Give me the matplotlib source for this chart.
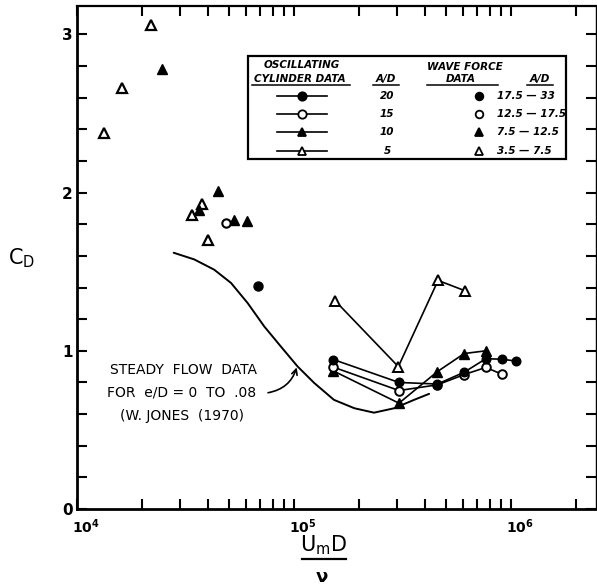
import matplotlib
matplotlib.use("Agg")
import matplotlib.pyplot as plt
from matplotlib.lines import Line2D
from matplotlib.patches import Rectangle
from matplotlib.ticker import FixedLocator, NullFormatter
from matplotlib.transforms import ScaledTranslation

# ---------------- data ----------------
# Steady flow data (W. Jones 1970)
steady_x = [2.79e4, 3.47e4, 4.29e4, 5.13e4, 6.12e4, 7.30e4, 8.71e4, 1.04e5,
            1.24e5, 1.53e5, 1.90e5, 2.34e5, 2.90e5, 3.58e5, 4.20e5]
steady_y = [1.62, 1.578, 1.513, 1.429, 1.302, 1.154, 1.027, 0.901,
            0.797, 0.690, 0.637, 0.609, 0.637, 0.690, 0.728]

# Oscillating cylinder data
osc20_x = [1.52e5, 3.05e5, 4.59e5, 6.1e5, 7.67e5, 9.1e5, 1.06e6]
osc20_y = [0.945, 0.80, 0.79, 0.865, 0.95, 0.947, 0.935]
osc15_x = [1.52e5, 3.05e5, 4.59e5, 6.1e5, 7.67e5, 9.1e5]
osc15_y = [0.897, 0.749, 0.785, 0.85, 0.895, 0.852]
osc10_x = [1.52e5, 3.05e5, 4.59e5, 6.1e5, 7.67e5]
osc10_y = [0.873, 0.669, 0.869, 0.983, 1.0]
osc5_x = [1.545e5, 3.03e5, 4.62e5, 6.14e5]
osc5_y = [1.318, 0.90, 1.445, 1.38]

# Wave force data
wf_fc_x = [6.84e4]                 # A/D 17.5 - 33 (filled circle)
wf_fc_y = [1.41]
wf_oc_x = [4.86e4]                 # A/D 12.5 - 17.5 (open circle)
wf_oc_y = [1.81]
wf_ft_x = [2.47e4, 4.47e4, 3.67e4, 5.31e4, 6.07e4]   # A/D 7.5 - 12.5
wf_ft_y = [2.78, 2.01, 1.89, 1.83, 1.82]
wf_ot_x = [1.33e4, 1.61e4, 2.20e4, 3.76e4, 3.38e4, 4.03e4]  # A/D 3.5 - 7.5
wf_ot_y = [2.38, 2.66, 3.06, 1.93, 1.86, 1.70]

x_major = [1e4, 1e5, 1e6]
x_major_labels = [r"$\mathbf{10^{4}}$", r"$\mathbf{10^{5}}$", r"$\mathbf{10^{6}}$"]
y_major = [0, 1, 2, 3]
y_major_labels = ["0", "1", "2", "3"]

osc_labels = ["20", "15", "10", "5"]
wf_labels = ["17.5 \u2014 33", "12.5 \u2014 17.5", "7.5 \u2014 12.5", "3.5 \u2014 7.5"]

# ---------------- figure ----------------
W, H = 597, 588
fig = plt.figure(figsize=(W / 100, H / 100), dpi=100)
fig.patch.set_facecolor("white")

def fx(px):
    return px / W

def fy(py):
    return 1 - py / H

ax_l, ax_r, ax_t, ax_b = 77, 596, 6, 509
ax = fig.add_axes([fx(ax_l), fy(ax_b), (ax_r - ax_l) / W, (ax_b - ax_t) / H])
ax.set_xscale("log")
ax.set_xlim(1e4, 2.47e6)
ax.set_ylim(0, 3.18)

# steady flow curve
ax.plot(steady_x, steady_y, color="black", lw=1.4, solid_capstyle="round")

# oscillating cylinder lines
ms_c = 6.2
ax.plot(osc5_x, osc5_y, "-^", color="black", mfc="white", mec="black",
        mew=1.4, ms=6.5, lw=1.2)
ax.plot(osc10_x, osc10_y, "-^", color="black", mfc="black", ms=6.5, lw=1.2)
ax.plot(osc15_x, osc15_y, "-o", color="black", mfc="white", mec="black",
        mew=1.4, ms=ms_c, lw=1.2)
ax.plot(osc20_x, osc20_y, "-o", color="black", mfc="black", ms=ms_c, lw=1.2)

# wave force scatter
ax.plot(wf_ot_x, wf_ot_y, "^", ls="none", mfc="white", mec="black", mew=1.6, ms=7)
ax.plot(wf_ft_x, wf_ft_y, "^", ls="none", mfc="black", mec="black", ms=7)
ax.plot(wf_oc_x, wf_oc_y, "o", ls="none", mfc="white", mec="black", mew=1.5, ms=6)
ax.plot(wf_fc_x, wf_fc_y, "o", ls="none", mfc="black", mec="black", ms=6.5)

# axes styling
for side, lw in (("left", 2.0), ("bottom", 2.0), ("top", 1.6), ("right", 1.0)):
    ax.spines[side].set_linewidth(lw)
ax.set_xticks(x_major)
ax.set_xticklabels(x_major_labels, fontsize=10)
minor = [m * 10 ** e for e in (4, 5) for m in range(2, 10)] + [2e6]
ax.xaxis.set_minor_locator(FixedLocator(minor))
ax.xaxis.set_minor_formatter(NullFormatter())
ax.set_yticks(y_major)
ax.set_yticklabels(y_major_labels, fontsize=11, fontweight="bold")
ax.set_yticks([i * 0.2 for i in range(16) if i % 5 != 0], minor=True)
ax.tick_params(axis="both", which="both", direction="in", width=1.5,
               top=True, right=True)
ax.tick_params(axis="x", which="both", length=7, pad=6)
ax.tick_params(axis="y", which="both", length=7, pad=3)
shift = ScaledTranslation(-5 / 100, 0, fig.dpi_scale_trans)
for lbl in ax.get_xticklabels():
    lbl.set_horizontalalignment("left")
    lbl.set_transform(lbl.get_transform() + shift)

# annotation text
ann = dict(fontsize=10, color="black", ha="center", va="center",
           family="DejaVu Sans")
fig.text(fx(183), fy(370), "STEADY  FLOW  DATA", **ann)
fig.text(fx(182), fy(393), "FOR  e/D = 0  TO  .08", **ann)
fig.text(fx(182), fy(416), "(W. JONES  (1970)", **ann)
ax.annotate("", xy=(1.03e5, 0.895), xytext=(7.6e4, 0.735),
            arrowprops=dict(arrowstyle="->", color="black", lw=1.2,
                            connectionstyle="arc3,rad=0.3",
                            shrinkA=0, shrinkB=0))

# axis labels
fig.text(fx(8), fy(258), r"C$_{\mathregular{D}}$", fontsize=15, ha="left",
         va="center")
fig.text(fx(324), fy(545), r"U$_{\mathregular{m}}$D", fontsize=15,
         ha="center", va="center")
fig.add_artist(Line2D([fx(302), fx(346)], [fy(559), fy(559)], color="black",
                      lw=1.6, transform=fig.transFigure))
fig.text(fx(322), fy(577), "\u03bd", fontsize=13, fontweight="bold",
         ha="center", va="center")

# legend box
fig.add_artist(Rectangle((fx(248), fy(159)), fx(566) - fx(248), fy(56) - fy(159),
                         transform=fig.transFigure, fill=False, lw=1.6,
                         edgecolor="black"))
lg = dict(fontsize=7.5, fontweight="bold", style="italic", color="black",
          va="center")
fig.text(fx(302), fy(65), "OSCILLATING", ha="center", **lg)
fig.text(fx(300), fy(79), "CYLINDER DATA", ha="center", **lg)
fig.add_artist(Line2D([fx(252), fx(350)], [fy(84.5), fy(84.5)], color="black",
                      lw=1.1, transform=fig.transFigure))
fig.text(fx(386), fy(79), "A/D", ha="center", **lg)
fig.add_artist(Line2D([fx(373), fx(399)], [fy(84.5), fy(84.5)], color="black",
                      lw=1.1, transform=fig.transFigure))
fig.text(fx(465), fy(67), "WAVE FORCE", ha="center", **lg)
fig.text(fx(461), fy(79), "DATA", ha="center", **lg)
fig.add_artist(Line2D([fx(427), fx(498)], [fy(84.5), fy(84.5)], color="black",
                      lw=1.1, transform=fig.transFigure))
fig.text(fx(540), fy(79), "A/D", ha="center", **lg)
fig.add_artist(Line2D([fx(527), fx(553)], [fy(84.5), fy(84.5)], color="black",
                      lw=1.1, transform=fig.transFigure))

row_y = [96, 114, 132, 151]
osc_styles = [("o", "black"), ("o", "white"), ("^", "black"), ("^", "white")]
for ry, (mk, fc), olab, wlab in zip(row_y, osc_styles, osc_labels, wf_labels):
    fig.add_artist(Line2D([fx(277), fx(327)], [fy(ry), fy(ry)], color="black",
                          lw=1.2, transform=fig.transFigure))
    fig.add_artist(Line2D([fx(302)], [fy(ry)], marker=mk, mfc=fc, mec="black",
                          mew=1.3, ms=6, ls="none", transform=fig.transFigure))
    fig.text(fx(387), fy(ry), olab, ha="center", **lg)
    fig.add_artist(Line2D([fx(479)], [fy(ry)], marker=mk, mfc=fc, mec="black",
                          mew=1.3, ms=5.5, ls="none", transform=fig.transFigure))
    fig.text(fx(497), fy(ry), wlab, ha="left", **lg)

fig.savefig("out.png", dpi=100, facecolor="white")
